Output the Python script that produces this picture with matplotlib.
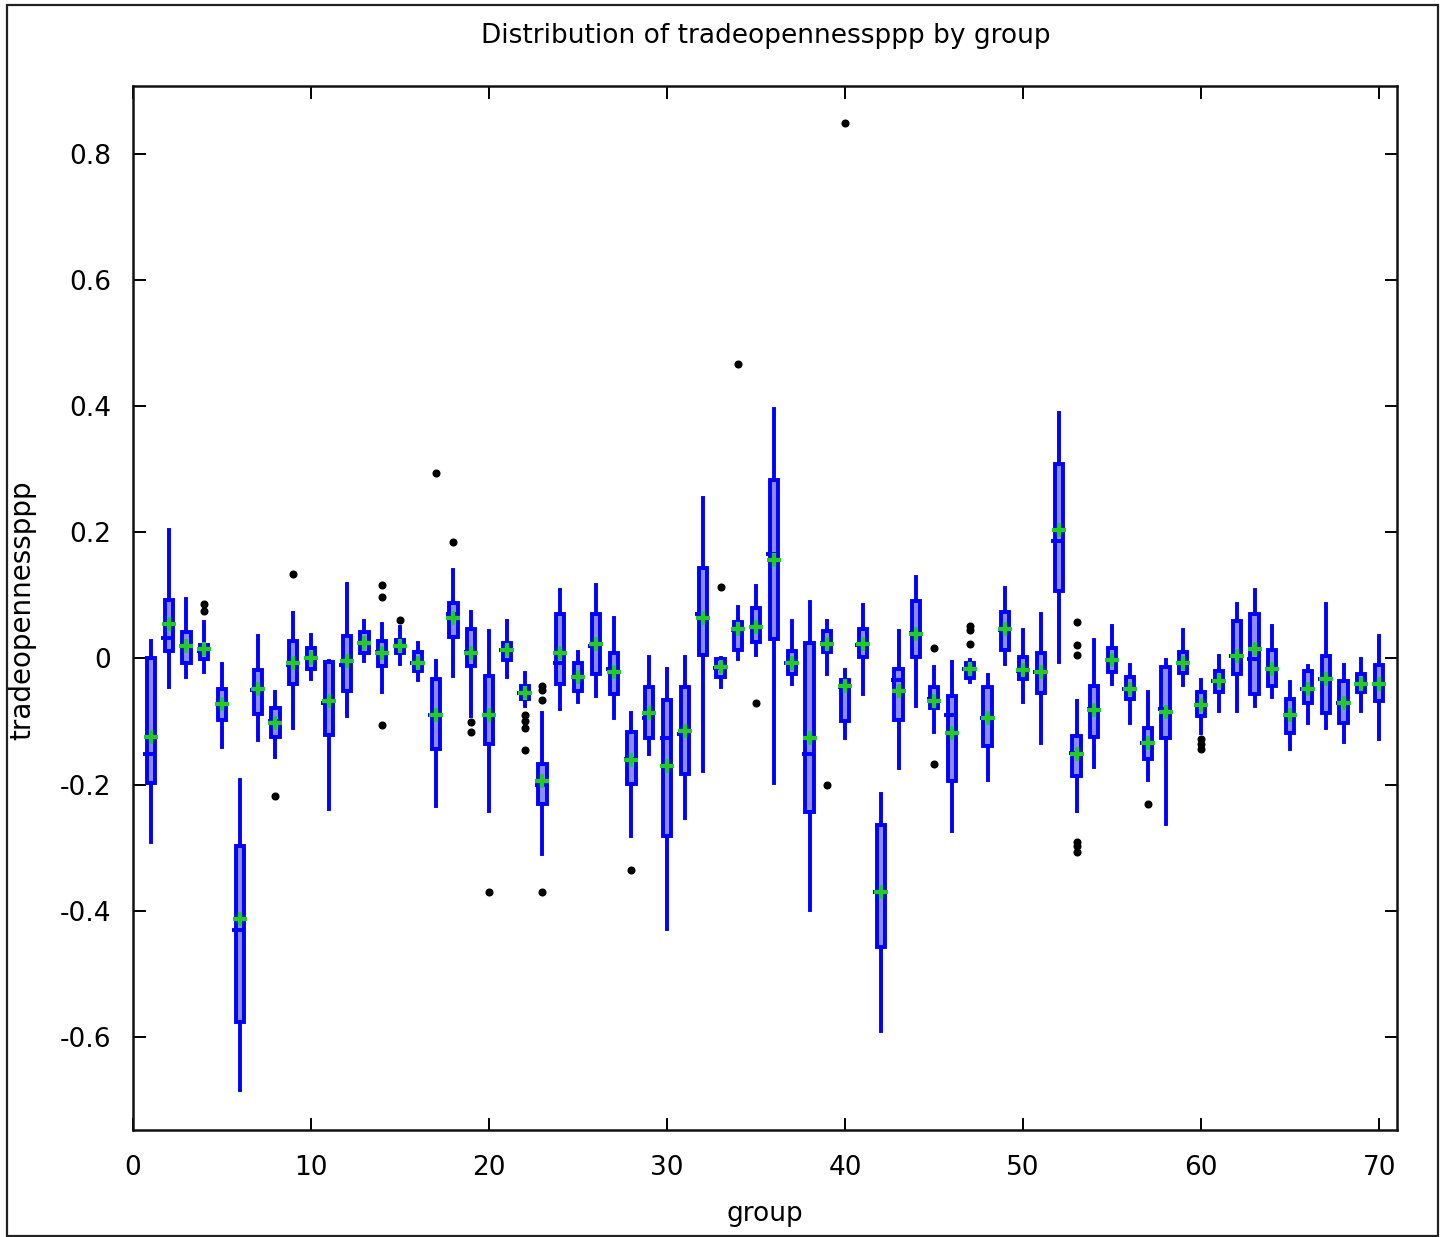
import matplotlib
matplotlib.use("Agg")
import matplotlib.pyplot as plt
from matplotlib.patches import Rectangle
import numpy as np

# per-group summary: whisker low, Q1, median, Q3, whisker high, mean
groups = np.arange(1, 71)

whislo = [-0.291, -0.045, -0.029, -0.021, -0.141, -0.685, -0.129, -0.156, -0.111, -0.033,
          -0.239, -0.092, -0.004, -0.054, -0.009, -0.034, -0.234, -0.028, -0.091, -0.242,
          -0.030, -0.076, -0.310, -0.080, -0.069, -0.060, -0.095, -0.282, -0.151, -0.429,
          -0.253, -0.178, -0.046, -0.001, 0.005, -0.197, -0.040, -0.399, -0.024, -0.127,
          -0.057, -0.591, -0.174, -0.075, -0.117, -0.274, -0.037, -0.193, -0.009, -0.069,
          -0.134, -0.006, -0.242, -0.173, -0.041, -0.102, -0.193, -0.263, -0.042, -0.118,
          -0.083, -0.083, -0.076, -0.061, -0.144, -0.103, -0.110, -0.132, -0.083, -0.128]

q1 = [-0.198, 0.011, -0.008, -0.001, -0.098, -0.576, -0.088, -0.125, -0.040, -0.016,
      -0.121, -0.052, 0.009, -0.012, 0.008, -0.020, -0.143, 0.034, -0.012, -0.135,
      -0.002, -0.065, -0.231, -0.041, -0.052, -0.025, -0.056, -0.199, -0.127, -0.281,
      -0.184, 0.005, -0.029, 0.013, 0.026, 0.031, -0.024, -0.243, 0.010, -0.100,
      0.003, -0.457, -0.097, 0.003, -0.079, -0.194, -0.031, -0.139, 0.013, -0.033,
      -0.055, 0.107, -0.187, -0.124, -0.022, -0.064, -0.160, -0.126, -0.023, -0.091,
      -0.054, -0.025, -0.057, -0.044, -0.119, -0.070, -0.086, -0.103, -0.054, -0.068]

med = [-0.151, 0.033, 0.020, 0.012, -0.072, -0.430, -0.050, -0.100, -0.010, 0.000,
       -0.070, -0.010, 0.025, 0.010, 0.019, -0.008, -0.090, 0.070, 0.010, -0.090,
       0.013, -0.055, -0.200, -0.008, -0.030, 0.020, -0.016, -0.160, -0.095, -0.127,
       -0.120, 0.071, -0.015, 0.045, 0.050, 0.166, -0.007, -0.151, 0.025, -0.045,
       0.022, -0.370, -0.034, 0.040, -0.065, -0.089, -0.017, -0.095, 0.045, -0.020,
       -0.022, 0.186, -0.150, -0.080, -0.003, -0.048, -0.134, -0.080, -0.007, -0.074,
       -0.036, 0.004, -0.001, -0.017, -0.089, -0.048, -0.032, -0.071, -0.040, -0.040]

q3 = [0.000, 0.093, 0.042, 0.022, -0.048, -0.298, -0.018, -0.078, 0.027, 0.016,
      -0.006, 0.035, 0.042, 0.027, 0.029, 0.010, -0.032, 0.088, 0.046, -0.028,
      0.025, -0.043, -0.168, 0.070, -0.007, 0.070, 0.009, -0.117, -0.046, -0.066,
      -0.046, 0.143, -0.001, 0.058, 0.080, 0.283, 0.012, 0.025, 0.043, -0.034,
      0.047, -0.264, -0.017, 0.091, -0.045, -0.059, -0.007, -0.046, 0.073, 0.002,
      0.009, 0.309, -0.123, -0.043, 0.017, -0.029, -0.111, -0.013, 0.010, -0.054,
      -0.020, 0.059, 0.070, 0.013, -0.065, -0.020, 0.004, -0.036, -0.025, -0.010]

whishi = [0.027, 0.204, 0.095, 0.057, -0.009, -0.193, 0.035, -0.053, 0.072, 0.037,
          -0.004, 0.118, 0.059, 0.055, 0.050, 0.025, -0.004, 0.141, 0.073, 0.043,
          0.059, -0.023, -0.087, 0.108, 0.010, 0.116, 0.064, -0.086, 0.003, -0.016,
          0.003, 0.254, 0.000, 0.081, 0.115, 0.396, 0.059, 0.089, 0.059, -0.019,
          0.085, -0.215, 0.043, 0.129, -0.013, -0.006, -0.003, -0.027, 0.112, 0.045,
          0.071, 0.390, -0.068, 0.030, 0.051, -0.010, -0.053, -0.002, 0.045, -0.034,
          0.004, 0.086, 0.108, 0.052, -0.037, -0.012, 0.086, -0.010, -0.001, 0.036]

means = [-0.125, 0.055, 0.019, 0.015, -0.072, -0.413, -0.049, -0.103, -0.008, 0.000,
         -0.068, -0.004, 0.024, 0.009, 0.019, -0.008, -0.089, 0.064, 0.009, -0.089,
         0.013, -0.055, -0.194, 0.009, -0.029, 0.023, -0.021, -0.161, -0.086, -0.171,
         -0.115, 0.064, -0.014, 0.046, 0.050, 0.156, -0.007, -0.126, 0.023, -0.044,
         0.023, -0.371, -0.051, 0.038, -0.067, -0.119, -0.017, -0.094, 0.046, -0.019,
         -0.022, 0.203, -0.152, -0.082, -0.003, -0.049, -0.134, -0.085, -0.007, -0.074,
         -0.036, 0.004, 0.015, -0.017, -0.089, -0.048, -0.032, -0.071, -0.040, -0.041]

# outlying observations, keyed by group
outliers = {
    4: [0.075, 0.087],
    8: [-0.218],
    9: [0.134],
    14: [0.117, 0.098, -0.105],
    15: [0.061],
    17: [0.294],
    18: [0.185],
    19: [-0.101, -0.116],
    20: [-0.371],
    22: [-0.090, -0.100, -0.111, -0.146],
    23: [-0.044, -0.050, -0.066, -0.371],
    28: [-0.336],
    33: [0.114],
    34: [0.467],
    35: [-0.071],
    39: [-0.200],
    40: [0.849],
    45: [0.016, -0.167],
    47: [0.051, 0.045, 0.023],
    53: [0.058, 0.021, 0.005, -0.291, -0.298, -0.307],
    57: [-0.231],
    60: [-0.128, -0.136, -0.144],
}

xticks = [0, 10, 20, 30, 40, 50, 60, 70]
yticks = [-0.6, -0.4, -0.2, 0.0, 0.2, 0.4, 0.6, 0.8]
ytick_labels = ["-0.6", "-0.4", "-0.2", "0", "0.2", "0.4", "0.6", "0.8"]

BLUE = "#0000ff"
FILL = "#8c8cff"
GREEN = "#22cc22"
FS = 19
LW = 2.8

plt.rcParams["font.family"] = ["DejaVu Sans"]

fig = plt.figure(figsize=(14.46, 12.37), dpi=100)
ax = fig.add_axes([0.0920, 0.0865, 0.8741, 0.8440])

stats = []
for i, g in enumerate(groups):
    stats.append({
        "whislo": whislo[i], "q1": q1[i], "med": med[i], "q3": q3[i],
        "whishi": whishi[i], "mean": means[i],
        "fliers": outliers.get(int(g), []),
    })

ax.bxp(stats, positions=groups, widths=0.46, patch_artist=True,
       showcaps=False, showmeans=False,
       boxprops=dict(facecolor=FILL, edgecolor=BLUE, linewidth=LW),
       whiskerprops=dict(color=BLUE, linewidth=LW),
       medianprops=dict(linewidth=0),
       flierprops=dict(marker="o", markersize=4.8, markerfacecolor="black",
                       markeredgecolor="black", linestyle="none"),
       manage_ticks=False, zorder=2)

# median bar sticks out a little on the left of each box
ax.hlines(med, groups - 0.42, groups + 0.23, colors=BLUE, linewidth=LW, zorder=3)

ax.plot(groups, means, linestyle="none", marker="+", markersize=10,
        markeredgewidth=3.0, color=GREEN, zorder=4)

ax.set_xlim(0, 71)
ax.set_ylim(-0.748, 0.908)
ax.set_xticks(xticks)
ax.set_xticklabels([str(t) for t in xticks])
ax.set_yticks(yticks)
ax.set_yticklabels(ytick_labels)
ax.tick_params(direction="in", length=9, width=1.4, top=True, right=True,
               labelsize=FS, colors="black")
ax.tick_params(axis="x", pad=18)
ax.tick_params(axis="y", pad=16)
for sp in ax.spines.values():
    sp.set_linewidth(1.8)
    sp.set_color("#111111")

fig.text(0.5295, 0.971, "Distribution of tradeopennessppp by group",
         ha="center", va="center", fontsize=FS)
fig.text(0.529, 0.0186, "group", ha="center", va="center", fontsize=FS)
fig.text(0.0152, 0.507, "tradeopennessppp", ha="center", va="center",
         rotation=90, fontsize=FS + 1)

# thin frame around the whole picture
fig.patches.append(Rectangle((7 / 1446, 1 / 1237), 1431 / 1446, 1231 / 1237,
                             transform=fig.transFigure, fill=False,
                             edgecolor="#222222", linewidth=1.6))

fig.savefig("out.png", dpi=100)
